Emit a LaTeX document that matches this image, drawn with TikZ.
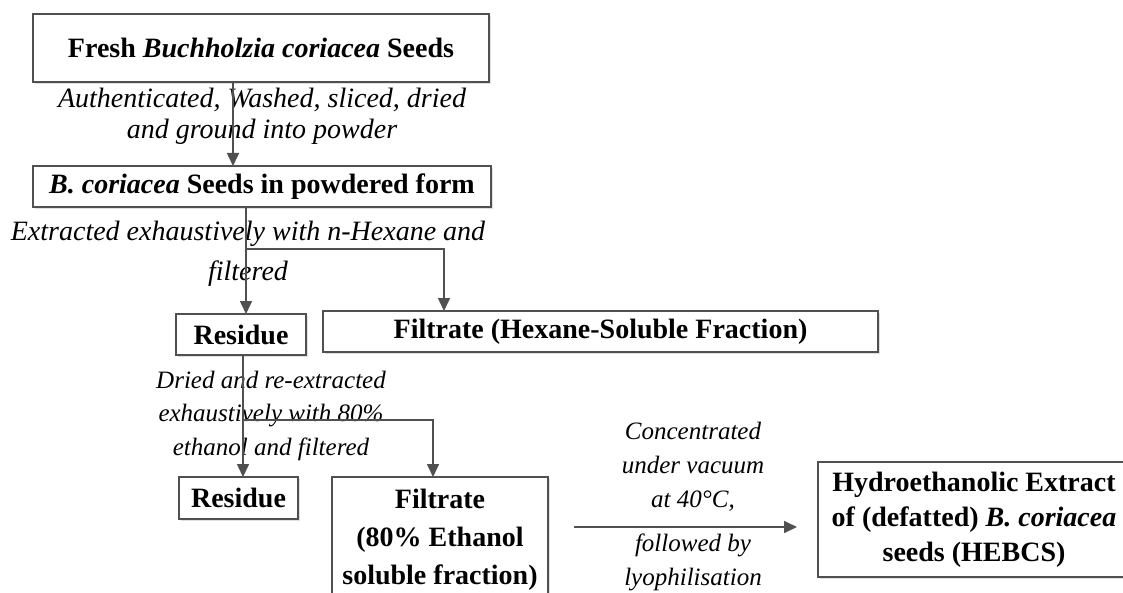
\documentclass[tikz,border=0pt]{standalone}
\usepackage{fontspec}
\setmainfont{Liberation Serif}
\usetikzlibrary{arrows.meta,shadows}
\definecolor{linegray}{RGB}{80,80,80}
\newcommand\myfs{\fontsize{28}{31}\selectfont}
\begin{document}
\begin{tikzpicture}[x=1pt,y=-1pt,
  box/.style={draw=linegray, line width=1.6pt, fill=white, inner sep=0pt, outer sep=0pt,
    align=center, font=\bfseries\myfs,
    drop shadow={opacity=0.25,shadow xshift=2pt,shadow yshift=-2pt}},
  lab/.style={align=center, font=\itshape\myfs, inner sep=0pt},
  arr/.style={draw=linegray, line width=1.6pt, -{Triangle[length=13pt,width=12pt]}}]
\path[use as bounding box] (0,0) rectangle (1123,593);
\clip (0,0) rectangle (1123,593);
% boxes
\node[box, minimum width=456pt, minimum height=68pt] (b1) at (261,48) {Fresh \textit{Buchholzia coriacea} Seeds};
\node[box, minimum width=458pt, minimum height=41pt] (b2) at (262,186.5) {\textit{B. coriacea} Seeds in powdered form};
\node[box, minimum width=130pt, minimum height=41pt] (res1) at (241,334.5) {Residue};
\node[box, minimum width=555pt, minimum height=41pt] (filt1) at (600.5,331.5) {Filtrate (Hexane-Soluble Fraction)};
\node[box, minimum width=119pt, minimum height=42pt] (res2) at (238.5,498) {Residue};
\node[box, minimum width=216pt, minimum height=126pt, font=\bfseries\fontsize{28}{38}\selectfont] (filt2) at (440,540) {Filtrate\\(80\% Ethanol\\soluble fraction)};
\node[box, minimum width=312pt, minimum height=115pt, font=\bfseries\fontsize{28}{35}\selectfont] (hebcs) at (974,519.5) {Hydroethanolic Extract\\of (defatted) \textit{B. coriacea}\\seeds (HEBCS)};
% labels
\node[lab, font=\itshape\fontsize{28}{31}\selectfont] (l1) at (262,116) {Authenticated, Washed, sliced, dried\\and ground into powder};
\node[lab, font=\itshape\fontsize{28}{40}\selectfont] (l2) at (248,254) {Extracted exhaustively with n-Hexane and\\filtered};
\node[lab, font=\itshape\fontsize{25}{33.5}\selectfont] (l3) at (271,415.5) {Dried and re-extracted\\exhaustively with 80\%\\ethanol and filtered};
\node[lab, font=\itshape\fontsize{25}{34}\selectfont] (l4) at (693,507) {Concentrated\\under vacuum\\at 40°C,\\[10pt]followed by\\lyophilisation};
% connectors
\coordinate (x1) at (233,0);
\coordinate (x2) at (246,0);
\coordinate (x3) at (243,0);
\coordinate (j1) at (246,249);
\coordinate (j2) at (243,420);
\coordinate (h0) at (574,527);
\draw[arr] (x1 |- b1.south) -- (x1 |- b2.north);
\draw[arr] (x2 |- b2.south) -- (x2 |- res1.north);
\draw[arr] (j1) -| ([xshift=121pt]filt1.north west);
\draw[arr] (x3 |- res1.south) -- (x3 |- res2.north);
\draw[arr] (j2) -| ([xshift=101pt]filt2.north west);
\draw[arr, shorten >=21pt] (h0) -- (h0 -| hebcs.west);
\end{tikzpicture}
\end{document}
